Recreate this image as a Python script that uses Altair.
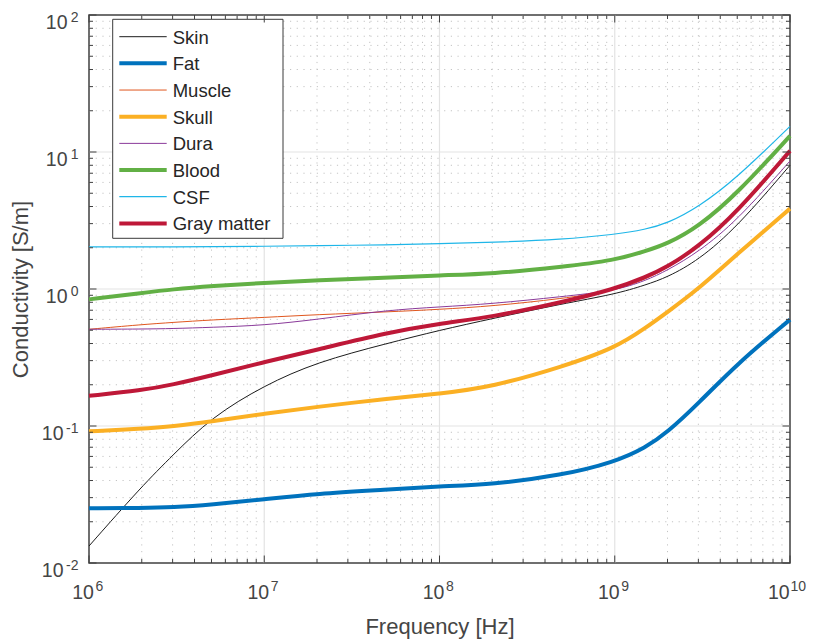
import altair as alt
import pandas as pd

# Frequency points (Hz) at which the conductivity curves are sampled
FREQ_HZ = [1e6, 2e6, 3e6, 5e6, 1e7, 2e7, 5e7, 1e8, 2e8, 5e8,
           1e9, 1.5e9, 2e9, 3e9, 5e9, 1e10]

# Conductivity (S/m) per tissue
SKIN   = [0.0133, 0.0363, 0.061, 0.116, 0.198, 0.293, 0.40, 0.50, 0.608, 0.78,
          0.915, 1.07, 1.22, 1.62, 2.84, 8.0]
FAT    = [0.0251, 0.0252, 0.0255, 0.0267, 0.0292, 0.0321, 0.0343, 0.0363, 0.0375, 0.0437,
          0.0546, 0.0695, 0.090, 0.146, 0.285, 0.598]
MUSCLE = [0.508, 0.55, 0.57, 0.595, 0.62, 0.65, 0.68, 0.71, 0.75, 0.85,
          0.97, 1.18, 1.42, 2.0, 3.55, 9.9]
SKULL  = [0.0914, 0.0957, 0.0995, 0.1077, 0.123, 0.138, 0.158, 0.172, 0.193, 0.27,
          0.37, 0.52, 0.68, 1.0, 1.8, 3.86]
DURA   = [0.508, 0.51, 0.514, 0.525, 0.543, 0.60, 0.70, 0.74, 0.78, 0.88,
          0.97, 1.15, 1.37, 1.86, 3.16, 8.6]
BLOOD  = [0.84, 0.935, 0.995, 1.05, 1.11, 1.16, 1.21, 1.26, 1.29, 1.45,
          1.62, 1.89, 2.14, 2.84, 4.97, 13.1]
CSF    = [2.03, 2.03, 2.03, 2.04, 2.05, 2.07, 2.10, 2.14, 2.19, 2.30,
          2.50, 2.72, 3.02, 3.95, 6.5, 15.4]
GRAY   = [0.166, 0.182, 0.20, 0.234, 0.293, 0.36, 0.48, 0.56, 0.625, 0.80,
          1.0, 1.22, 1.45, 2.03, 3.65, 10.2]

NAMES = ["Skin", "Fat", "Muscle", "Skull", "Dura", "Blood", "CSF", "Gray matter"]
SERIES = [SKIN, FAT, MUSCLE, SKULL, DURA, BLOOD, CSF, GRAY]
COLORS = ["#1c1c1c", "#0072BD", "#E0571F", "#FBB024", "#8A3A9A", "#62B045", "#1FB6E8", "#BE1838"]
WIDTHS = [1.0, 4.0, 1.0, 4.0, 1.0, 4.0, 1.2, 4.0]

# Axis tick positions
X_MAJOR = [1e6, 1e7, 1e8, 1e9, 1e10]
Y_MAJOR = [1e-2, 1e-1, 1e0, 1e1, 1e2]
X_MINOR = [m * 10.0 ** k for k in range(6, 10) for m in range(2, 10)]
Y_MINOR = [m * 10.0 ** k for k in range(-2, 2) for m in range(2, 10)]

W, H = 701, 548
FONT = "Liberation Sans"
TEXT_COLOR = "#454545"
AXIS_COLOR = "#404040"

x_scale = alt.Scale(type="log", domain=[1e6, 1e10], nice=False)
y_scale = alt.Scale(type="log", domain=[1e-2, 1e2], nice=False)
color_scale = alt.Scale(domain=NAMES, range=COLORS)
width_scale = alt.Scale(type="ordinal", domain=NAMES, range=WIDTHS)

rows = []
for name, values in zip(NAMES, SERIES):
    for f, s in zip(FREQ_HZ, values):
        rows.append({"tissue": name, "freq": f, "sigma": s})
curves = pd.DataFrame(rows)

xmaj = pd.DataFrame({"v": X_MAJOR})
ymaj = pd.DataFrame({"v": Y_MAJOR})
xmin = pd.DataFrame({"v": X_MINOR})
ymin = pd.DataFrame({"v": Y_MINOR})
xmaj_inner = pd.DataFrame({"v": X_MAJOR[1:-1]})
ymaj_inner = pd.DataFrame({"v": Y_MAJOR[1:-1]})

NOAX = None


def vrules(df, y0, y1, **mark):
    return alt.Chart(df).mark_rule(**mark).encode(
        x=alt.X("v:Q", scale=x_scale, axis=NOAX),
        y=alt.value(y0), y2=alt.value(y1))


def hrules(df, x0, x1, **mark):
    return alt.Chart(df).mark_rule(**mark).encode(
        y=alt.Y("v:Q", scale=y_scale, axis=NOAX),
        x=alt.value(x0), x2=alt.value(x1))


minor_style = dict(color="#c4c4c4", strokeWidth=1, strokeDash=[1.2, 5.5])
major_style = dict(color="#e3e3e3", strokeWidth=1.2)
grid = [
    vrules(xmin, 0, H, **minor_style),
    hrules(ymin, 0, W, **minor_style),
    vrules(xmaj_inner, 0, H, **major_style),
    hrules(ymaj_inner, 0, W, **major_style),
]

tick_style = dict(color=AXIS_COLOR, strokeWidth=1)
MAJ, MIN = 7.5, 4
ticks = [
    vrules(xmaj, H, H - MAJ, **tick_style), vrules(xmaj, 0, MAJ, **tick_style),
    vrules(xmin, H, H - MIN, **tick_style), vrules(xmin, 0, MIN, **tick_style),
    hrules(ymaj, 0, MAJ, **tick_style), hrules(ymaj, W, W - MAJ, **tick_style),
    hrules(ymin, 0, MIN, **tick_style), hrules(ymin, W, W - MIN, **tick_style),
]

# Tick labels are drawn as "10" plus a raised, smaller exponent
base_x_axis = alt.Axis(
    orient="bottom",
    values=X_MAJOR, labelExpr="'10'", labelFontSize=19.5, labelPadding=20.5,
    labelOffset={"condition": {"test": "datum.value > 5e9", "value": -11.7}, "value": -6.5},
    labelAlign="center", labelBaseline="top", labelFlush=False, labelOverlap=False,
    ticks=False, domain=False, grid=False,
    title="Frequency [Hz]", titleFontSize=22, titleFontWeight="normal",
    titleBaseline="alphabetic", titleY=70, titleColor=TEXT_COLOR)
exp_x_axis = alt.Axis(
    orient="bottom",
    values=X_MAJOR, labelExpr="'' + round(log(datum.value) / LN10)", labelFontSize=14,
    labelPadding=16,
    labelOffset={"condition": {"test": "datum.value > 5e9", "value": 0}, "value": 6},
    labelAlign="left", labelBaseline="top", labelFlush=False, labelOverlap=False,
    ticks=False, domain=False, grid=False, title=None)
base_y_axis = alt.Axis(
    orient="left",
    values=Y_MAJOR, labelExpr="'10'", labelFontSize=19.5,
    labelPadding={"condition": {"test": "datum.value < 0.5", "value": 26}, "value": 22},
    labelOffset=7.9, labelAlign="right", labelBaseline="middle",
    labelFlush=False, labelOverlap=False, ticks=False, domain=False, grid=False,
    title="Conductivity [S/m]", titleFontSize=22, titleFontWeight="normal",
    titleAngle=270, titleBaseline="alphabetic", titleAlign="center",
    titleX=-61.5, titleY=H / 2, titleColor=TEXT_COLOR)
exp_y_axis = alt.Axis(
    orient="left",
    values=Y_MAJOR, labelExpr="'' + round(log(datum.value) / LN10)", labelFontSize=14,
    labelPadding=11, labelOffset=2.4, labelAlign="right", labelBaseline="middle",
    labelFlush=False, labelOverlap=False, ticks=False, domain=False, grid=False, title=None)

# Smooth B-spline through the sampled conductivity values
lines = alt.Chart(curves).mark_line(interpolate="basis", strokeCap="butt").encode(
    x=alt.X("freq:Q", scale=x_scale, axis=base_x_axis),
    y=alt.Y("sigma:Q", scale=y_scale, axis=base_y_axis),
    color=alt.Color("tissue:N", scale=color_scale, legend=None),
    strokeWidth=alt.StrokeWidth("tissue:N", scale=width_scale, legend=None),
    detail="tissue:N",
)

exp_carrier = alt.Chart(curves).mark_point(opacity=0).encode(
    x=alt.X("freq:Q", scale=x_scale, axis=exp_x_axis),
    y=alt.Y("sigma:Q", scale=y_scale, axis=exp_y_axis),
)

# Legend box in the upper-left corner
ROW0, ROW_STEP = 21.7, 26.67
legend_df = pd.DataFrame({"tissue": NAMES})
legend_df["ly"] = [ROW0 + i * ROW_STEP for i in range(len(NAMES))]

legend_box = alt.Chart(pd.DataFrame({"k": [0]})).mark_rect(
    fill="white", stroke="#3a3a3a", strokeWidth=1).encode(
    x=alt.value(23.7), x2=alt.value(194), y=alt.value(4.3), y2=alt.value(223.3))
legend_lines = alt.Chart(legend_df).mark_rule(strokeCap="butt").encode(
    x=alt.value(30.3), x2=alt.value(77.7),
    y=alt.Y("ly:Q", scale=None, axis=NOAX),
    color=alt.Color("tissue:N", scale=color_scale, legend=None),
    strokeWidth=alt.StrokeWidth("tissue:N", scale=width_scale, legend=None),
)
legend_text = alt.Chart(legend_df).mark_text(
    align="left", baseline="middle", fontSize=18.5, font=FONT, color="#262626", dy=1).encode(
    x=alt.value(83.7),
    y=alt.Y("ly:Q", scale=None, axis=NOAX),
    text="tissue:N",
)

chart = alt.layer(
    *grid, lines, legend_box, legend_lines, legend_text, *ticks, exp_carrier
).resolve_axis(x="independent", y="independent").properties(
    width=W, height=H,
    autosize=alt.AutoSizeParams(type="none"),
    padding={"left": 89, "top": 15, "right": 23, "bottom": 79},
).configure(
    font=FONT,
).configure_axis(
    labelFont=FONT, titleFont=FONT, labelColor=TEXT_COLOR, titleColor=TEXT_COLOR,
).configure_view(
    stroke=AXIS_COLOR, strokeWidth=1.5,
)

chart.save("out.html", embed_options={"renderer": "svg", "actions": False})
